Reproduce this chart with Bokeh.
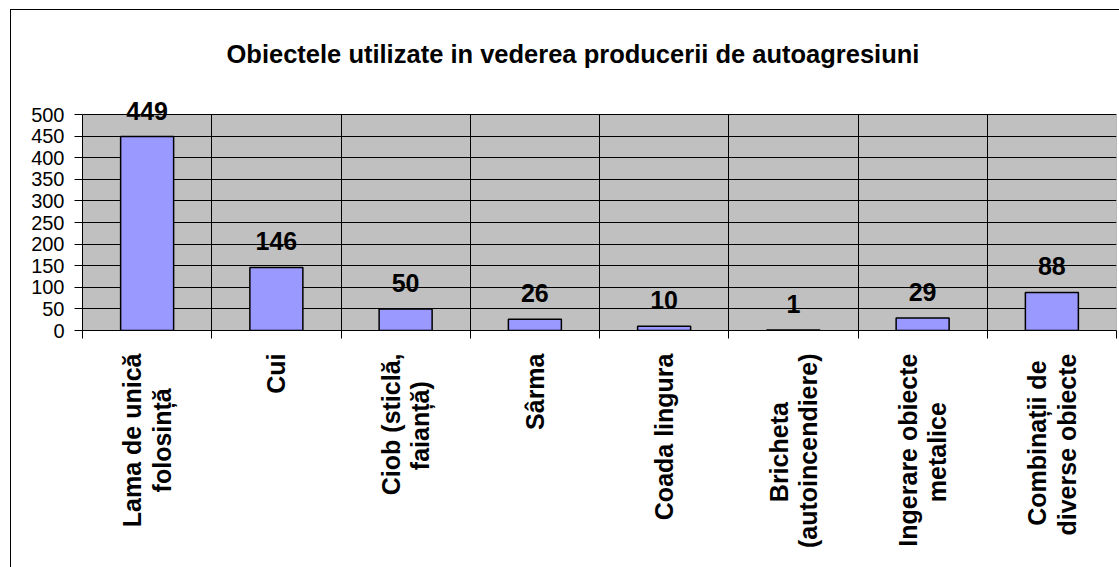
import math
from bokeh.plotting import figure
from bokeh.models import (Range1d, LinearAxis, FixedTicker, SingleIntervalTicker,
                          LabelSet, ColumnDataSource)
from bokeh.core.properties import value
from bokeh.embed import file_html
from bokeh.resources import INLINE

title_text = "Obiectele utilizate in vederea producerii de autoagresiuni"
categories = [
    "Lama de unică\nfolosință",
    "Cui",
    "Ciob (sticlă,\nfaianță)",
    "Sârma",
    "Coada lingura",
    "Bricheta\n(autoincendiere)",
    "Ingerare obiecte\nmetalice",
    "Combinații de\ndiverse obiecte",
]
values = [449, 146, 50, 26, 10, 1, 29, 88]
y_max = 500
y_step = 50

FONT = "Liberation Sans"
n = len(categories)
centers = [i + 0.5 for i in range(n)]
y_view = 551  # extra headroom above the plot area so value labels are not clipped

# layout only: non-breaking-space padding per label line so that the two lines of a
# rotated label look centred on each other (Bokeh right-aligns multi-line tick labels)
NBSP = "\u00a0"
line_pad = {0: [0, 5], 2: [0, 4], 5: [7, 0], 6: [0, 7], 7: [1, 0]}


def padded(i, name):
    lines = name.split("\n")
    pads = line_pad.get(i, [0] * len(lines))
    return "\n".join(line + NBSP * k for line, k in zip(lines, pads))


tick_labels = {c: padded(i, name) for i, (c, name) in enumerate(zip(centers, categories))}

src = ColumnDataSource(dict(x=centers, val=values, lab=[str(v) for v in values]))

p = figure(width=1109, height=558,
           x_range=Range1d(0, n),
           y_range=Range1d(0, y_view),
           output_backend="svg", toolbar_location=None,
           x_axis_location=None,
           min_border_left=71, min_border_top=82, min_border_right=4, min_border_bottom=238)
p.styles = {"margin-left": "10px", "margin-top": "9px",
            "border-left": "1px solid black", "border-top": "1px solid black"}

p.background_fill_color = None
p.border_fill_color = "white"
p.outline_line_color = None

# plot area (grey) drawn below the grid
p.quad(left=[0], right=[n], bottom=[0], top=[y_max], fill_color="#C0C0C0",
       line_color="#808080", line_width=1, level="image")

p.title.text = title_text
p.title.align = "left"
p.title.offset = 144
p.title.text_font = FONT
p.title.text_font_style = "bold"
p.title.text_font_size = "25.5px"
p.title.text_color = "black"
p.title.standoff = 49

p.xgrid.ticker = FixedTicker(ticks=list(range(1, n)))
p.xgrid.grid_line_color = "black"
p.xgrid.cross_bounds = (0, y_max)
p.ygrid.grid_line_color = "black"
p.ygrid.ticker = FixedTicker(ticks=list(range(y_step, y_max + 1, y_step)))

yax = p.yaxis[0]
yax.ticker = SingleIntervalTicker(interval=y_step)
yax.bounds = (0, y_max)
yax.axis_line_color = "black"
yax.major_tick_in = 0
yax.major_tick_out = 8
yax.minor_tick_line_color = None
yax.major_label_text_font = FONT
yax.major_label_text_font_size = "20px"
yax.major_label_text_color = "black"
yax.major_label_standoff = 10

tick_axis = LinearAxis(ticker=FixedTicker(ticks=list(range(0, n + 1))),
                       major_label_overrides={i: "" for i in range(0, n + 1)},
                       major_tick_in=0, major_tick_out=8, minor_tick_line_color=None,
                       axis_line_color="black", major_label_standoff=0)
p.add_layout(tick_axis, "below")

cat_axis = LinearAxis(ticker=FixedTicker(ticks=centers),
                      major_label_overrides=tick_labels,
                      major_tick_in=0, major_tick_out=0, major_tick_line_color=None,
                      minor_tick_line_color=None,
                      axis_line_color=None, major_label_orientation=math.pi / 2,
                      major_label_text_font=FONT, major_label_text_font_style="bold",
                      major_label_text_font_size="25px", major_label_text_color="black",
                      major_label_text_line_height=1.05,
                      major_label_standoff=15)
p.add_layout(cat_axis, "below")

p.vbar(x="x", top="val", width=0.41, source=src, fill_color="#9999FF",
       line_color="black", line_width=1.5)

labels = LabelSet(x="x", y="val", text="lab", source=src, text_align=value("center"),
                  text_baseline=value("alphabetic"), y_offset=17, text_font=value(FONT),
                  text_font_style=value("bold"), text_font_size=value("25px"),
                  text_color=value("black"))
p.add_layout(labels)

open("out.html", "w").write(file_html(p, INLINE))
